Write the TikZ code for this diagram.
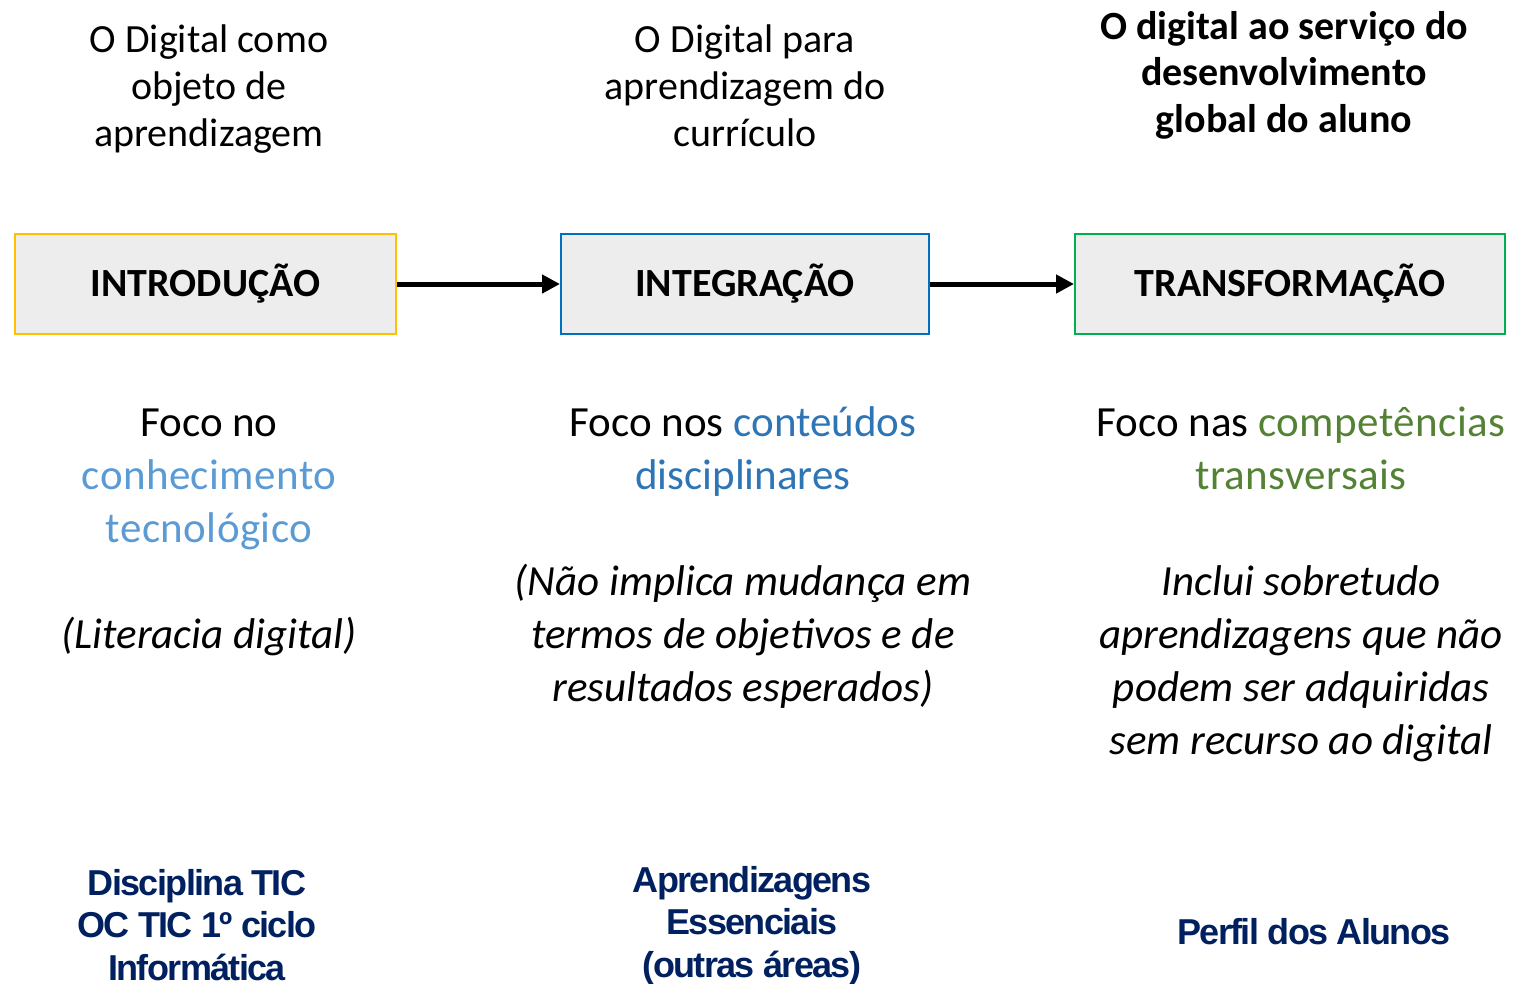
\documentclass[tikz,border=0pt]{standalone}
\usepackage{fontspec}
\setmainfont{Carlito}
\newfontfamily\navyfont[LetterSpace=-4.5]{Liberation Sans}
\newfontfamily\spacedfont[LetterSpace=1]{Carlito}
\usetikzlibrary{arrows.meta}
\definecolor{boxfill}{HTML}{EDEDED}
\definecolor{cyellow}{HTML}{FFC000}
\definecolor{cblue}{HTML}{0070C0}
\definecolor{cgreen}{HTML}{00B050}
\definecolor{tlblue}{HTML}{5B9BD5}
\definecolor{tmblue}{HTML}{2E75B6}
\definecolor{tgreen}{HTML}{548235}
\definecolor{navy}{HTML}{002060}
\tikzset{
  stagebox/.style={draw, line width=2pt, fill=boxfill, minimum height=100pt, inner sep=0pt,
    font=\fontsize{40}{47}\selectfont\bfseries},
  headtxt/.style={align=center, anchor=base, inner sep=0pt, font=\fontsize{40}{47}\selectfont},
  headbold/.style={align=center, anchor=base, inner sep=0pt, font=\fontsize{40}{46.5}\selectfont\bfseries},
  bodytxt/.style={align=center, anchor=base, inner sep=0pt, font=\fontsize{43}{53}\selectfont},
  bodyit/.style={align=center, anchor=base, inner sep=0pt, font=\fontsize{43}{53}\selectfont\itshape},
  foottxt/.style={align=center, anchor=base, inner sep=0pt, text=navy, font=\fontsize{36}{42.5}\navyfont\bfseries},
  flow/.style={line width=5pt, -{Triangle[length=18pt,width=18pt]}},
}
\begin{document}
\begin{tikzpicture}[x=1pt,y=-1pt]
\useasboundingbox (0,0) rectangle (1514,983);
% header texts
\node[headtxt] (h1) at (209,146) {O Digital como\\objeto de\\aprendizagem};
\node[headtxt] (h2) at (745,146) {O Digital para\\aprendizagem do\\currículo};
\node[headbold] (h3) at (1284,132) {O digital ao serviço do\\desenvolvimento\\global do aluno};
% boxes
\node[stagebox, draw=cyellow, minimum width=381pt] (b1) at (205.5,284) {INTRODUÇÃO};
\node[stagebox, draw=cblue, minimum width=368pt] (b2) at (745,284) {INTEGRAÇÃO};
\node[stagebox, draw=cgreen, minimum width=430pt] (b3) at (1290,284) {TRANSFORMAÇÃO};
\draw[flow] (b1.east) -- (b2.west);
\draw[flow] (b2.east) -- (b3.west);
% body texts
\node[bodytxt] (m1) at (209,542) {Foco no\\{\spacedfont\color{tlblue}conhecimento}\\{\spacedfont\color{tlblue}tecnológico}};
\node[bodyit] (n1) at (209,648) {(Literacia digital)};
\node[bodytxt] (m2) at (743,489) {Foco nos {\color{tmblue}conteúdos}\\{\color{tmblue}disciplinares}};
\node[bodyit] (n2) at (743,701) {(Não implica mudança em\\termos de objetivos e de\\resultados esperados)};
\node[bodytxt] (m3) at (1301,489) {Foco nas {\spacedfont\color{tgreen}competências}\\{\spacedfont\color{tgreen}transversais}};
\node[bodyit] (n3) at (1301,754) {Inclui sobretudo\\aprendizagens que não\\podem ser adquiridas\\sem recurso ao digital};
% footer texts
\node[foottxt] (f1) at (197,980) {Disciplina TIC\\OC TIC 1º ciclo\\Informática};
\node[foottxt] (f2) at (752,977) {Aprendizagens\\Essenciais\\(outras áreas)};
\node[foottxt] (f3) at (1314,944) {Perfil dos Alunos};
\end{tikzpicture}
\end{document}
